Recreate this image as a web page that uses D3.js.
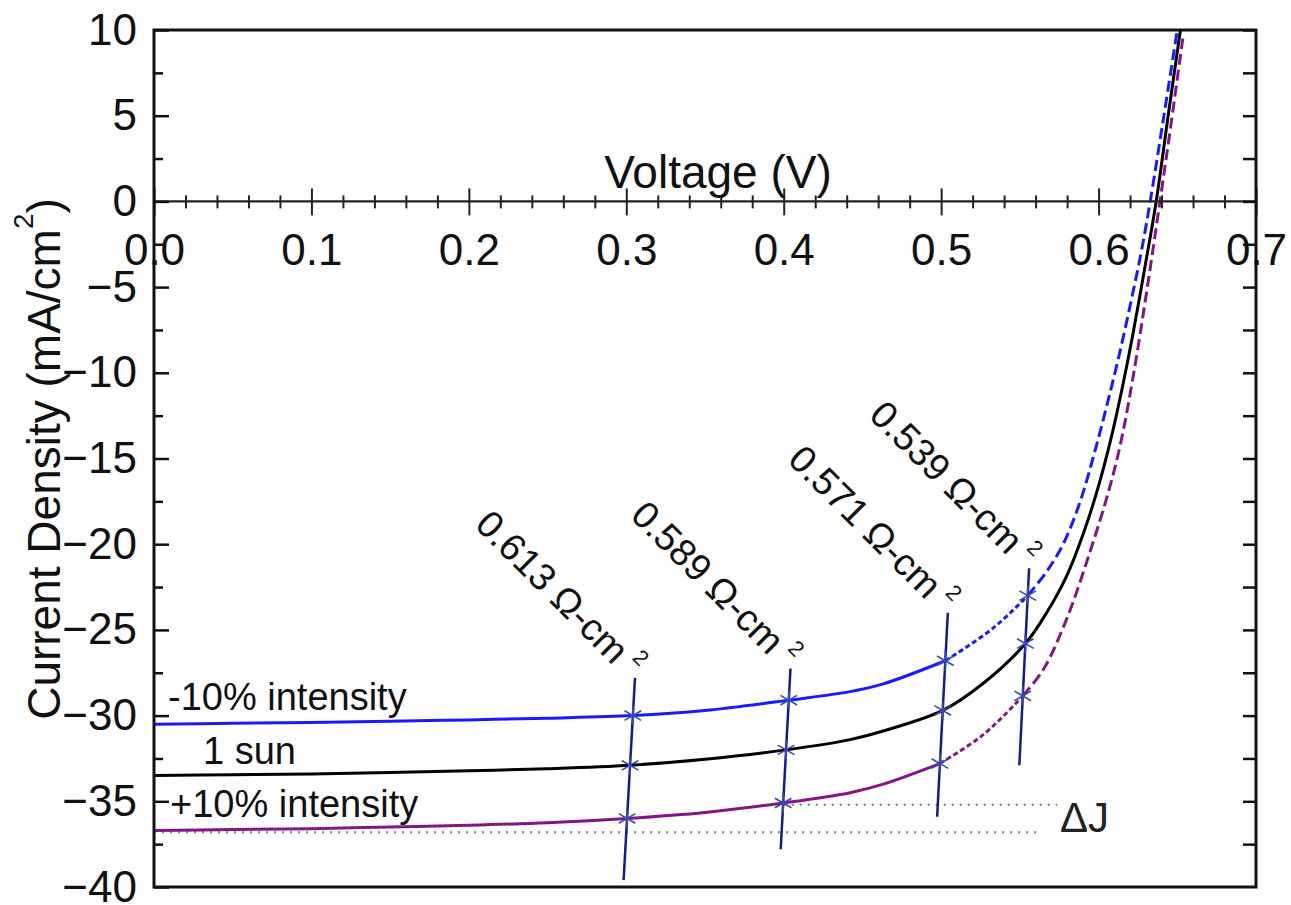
<!DOCTYPE html>
<html>
<head>
<meta charset="utf-8">
<script src="https://cdn.jsdelivr.net/npm/d3@7"></script>
<style>
  html, body { margin: 0; padding: 0; background: #fff; }
  svg { display: block; font-family: "Liberation Sans", Arial, sans-serif; }
</style>
</head>
<body>
<svg id="chart" width="1291" height="905"></svg>
<script>
// J-V curves: [voltage (V), current density (mA/cm^2)]
const curveMinus10 = [
  [0, -30.5], [0.05, -30.45], [0.1, -30.4], [0.15, -30.33], [0.2, -30.25], [0.25, -30.15],
  [0.3042, -30.0], [0.35, -29.7], [0.4032, -29.1], [0.4422, -28.6], [0.4632, -28.15],
  [0.5027, -26.8], [0.533, -24.9], [0.555, -23.0], [0.567, -21.6], [0.5775, -20.0],
  [0.588, -17.6], [0.597, -14.8], [0.605, -12.0], [0.613, -9.0], [0.6207, -5.8],
  [0.627, -3.0], [0.6328, 0], [0.6415, 5], [0.650, 10]
];
const curveOneSun = [
  [0, -33.5], [0.05, -33.45], [0.1, -33.4], [0.15, -33.32], [0.2, -33.22], [0.25, -33.1],
  [0.3024, -32.9], [0.35, -32.55], [0.4015, -32.0], [0.4422, -31.4], [0.4632, -30.9],
  [0.501, -29.7], [0.527, -28.1], [0.5535, -25.8], [0.567, -24.0], [0.58, -21.8],
  [0.591, -19.2], [0.6, -16.6], [0.608, -13.8], [0.615, -10.9], [0.6215, -7.9],
  [0.6295, -3.8], [0.6366, 0], [0.6442, 5], [0.652, 10]
];
const curvePlus10 = [
  [0, -36.7], [0.05, -36.65], [0.1, -36.6], [0.15, -36.5], [0.2, -36.4], [0.25, -36.25],
  [0.3005, -36.0], [0.35, -35.65], [0.3997, -35.1], [0.4422, -34.5], [0.4632, -34.0],
  [0.4992, -32.8], [0.527, -31.1], [0.5519, -28.85], [0.565, -27.3], [0.58, -24.3],
  [0.5947, -20.4], [0.6061, -17.0], [0.6138, -14.2], [0.622, -10.2], [0.6305, -5.3],
  [0.639, 0], [0.646, 4.5], [0.6535, 9.5]
];

// Series-resistance construction lines: R (ohm-cm^2), anchor point on 1-sun curve,
// current densities where the line meets the -10% / +10% curves, and line extent in J
const resistances = [0.613, 0.589, 0.571, 0.539];
const anchorV = [0.3024, 0.4015, 0.501, 0.5535];
const anchorJ = [-32.9, -32.0, -29.7, -25.8];
const jMinus10 = [-30.0, -29.1, -26.8, -23.0];
const jPlus10 = [-36.0, -35.1, -32.8, -28.85];
const lineTopJ = [-27.8, -27.25, -24.0, -21.4];
const lineBottomJ = [-39.6, -37.8, -35.9, -32.9];

// Delta-J reference levels
const deltaJLevels = [-35.2, -36.8];
const deltaJStart = [0.4, 0];
const deltaJEnd = [0.5737, 0.5616];

const xTicks = [0, 0.1, 0.2, 0.3, 0.4, 0.5, 0.6, 0.7];
const yTicks = [-40, -35, -30, -25, -20, -15, -10, -5, 0, 5, 10];

const svg = d3.select("#chart");
const x = d3.scaleLinear().domain([0, 0.7]).range([154, 1256]);
const y = d3.scaleLinear().domain([-40, 10]).range([887, 30]);

svg.append("defs").append("clipPath").attr("id", "plot-clip")
  .append("rect").attr("x", 154).attr("y", 30).attr("width", 1102).attr("height", 857);

const line = d3.line().x(d => x(d[0])).y(d => y(d[1])).curve(d3.curveCatmullRom.alpha(0.5));

// Each curve drawn in pieces so the dash style can change along it
function drawCurve(data, color, pieces) {
  const g = svg.append("g").attr("clip-path", "url(#plot-clip)");
  pieces.forEach(p => {
    const seg = data.filter(d => d[0] >= p.from && d[0] <= p.to);
    g.append("path").datum(seg)
      .attr("d", line)
      .attr("fill", "none")
      .attr("stroke", color)
      .attr("stroke-width", 3)
      .attr("stroke-dasharray", p.dash);
  });
}

// Delta-J dotted lines
deltaJLevels.forEach((j, i) => {
  svg.append("line")
    .attr("x1", x(deltaJStart[i])).attr("x2", x(deltaJEnd[i]))
    .attr("y1", y(j)).attr("y2", y(j))
    .attr("stroke", "#7a7a7a").attr("stroke-width", 2)
    .attr("stroke-dasharray", "2,6");
});

drawCurve(curvePlus10, "#851585", [
  { from: 0, to: 0.4992, dash: null },
  { from: 0.4992, to: 0.5519, dash: "5,3" },
  { from: 0.5519, to: 1, dash: "11,5" }
]);
drawCurve(curveMinus10, "#1a1aff", [
  { from: 0, to: 0.5027, dash: null },
  { from: 0.5027, to: 0.555, dash: "5,3" },
  { from: 0.555, to: 1, dash: "11,5" }
]);
drawCurve(curveOneSun, "#000", [{ from: 0, to: 1, dash: null }]);

// Resistance lines: V = V0 + R * (J - J0) / 1000
const vOnLine = (i, j) => anchorV[i] + resistances[i] * (j - anchorJ[i]) / 1000;
const star = d3.symbol().type(d3.symbolAsterisk).size(260);

resistances.forEach((r, i) => {
  svg.append("line")
    .attr("x1", x(vOnLine(i, lineTopJ[i]))).attr("y1", y(lineTopJ[i]))
    .attr("x2", x(vOnLine(i, lineBottomJ[i]))).attr("y2", y(lineBottomJ[i]))
    .attr("stroke", "#141c86").attr("stroke-width", 2.5);
  [jMinus10[i], anchorJ[i], jPlus10[i]].forEach(j => {
    svg.append("path")
      .attr("d", star)
      .attr("transform", `translate(${x(vOnLine(i, j))},${y(j)})`)
      .attr("fill", "none").attr("stroke", "#3a4bb0").attr("stroke-width", 1.6);
  });
  // rotated resistance label ending just above the top of the line
  const tx = x(vOnLine(i, lineTopJ[i])) - 22;
  const ty = y(lineTopJ[i]) - 12;
  svg.append("text")
    .attr("transform", `translate(${tx},${ty}) rotate(45)`)
    .attr("text-anchor", "end")
    .attr("font-size", 38)
    .attr("fill", "#111")
    .text(`${r.toFixed(3)} Ω-cm`);
  svg.append("text")
    .attr("transform", `translate(${tx},${ty}) rotate(45) translate(8,-18)`)
    .attr("font-size", 22).attr("fill", "#111")
    .text("2");
});

// Series labels
const seriesLabels = [
  { text: "-10% intensity", v: 0.0089, j: -29.65 },
  { text: "1 sun", v: 0.0311, j: -32.85 },
  { text: "+10% intensity", v: 0.0102, j: -35.9 }
];
seriesLabels.forEach(s => {
  svg.append("text").attr("x", x(s.v)).attr("y", y(s.j))
    .attr("font-size", 38).attr("fill", "#111").text(s.text);
});

svg.append("text").attr("x", 1060).attr("y", 832)
  .attr("font-size", 42).attr("fill", "#222").text("ΔJ");

// X axis through J = 0 with crossing ticks
const y0 = y(0);
const minorX = d3.range(0, 35).map(i => i * 0.02).filter(v => Math.abs(v * 10 - Math.round(v * 10)) > 1e-6);
const gxMinor = svg.append("g").attr("transform", `translate(0,${y0})`)
  .call(d3.axisBottom(x).tickValues(minorX).tickSize(7).tickFormat(""));
gxMinor.selectAll(".tick line").attr("y1", -6).attr("stroke", "#222").attr("stroke-width", 2);
gxMinor.select(".domain").remove();

const gx = svg.append("g").attr("transform", `translate(0,${y0})`)
  .call(d3.axisBottom(x).tickValues(xTicks).tickSize(14).tickPadding(18).tickFormat(d3.format(".1f")));
gx.selectAll(".tick line").attr("y1", -13).attr("stroke", "#222").attr("stroke-width", 2);
gx.selectAll(".tick text").attr("font-size", 44).attr("fill", "#111")
  .attr("font-family", "Liberation Sans, Arial, sans-serif");
gx.select(".domain").remove();
svg.append("line").attr("x1", x(0)).attr("x2", x(0.7)).attr("y1", y0).attr("y2", y0)
  .attr("stroke", "#222").attr("stroke-width", 2.2);

// Left axis: labels outside, ticks inward
const minorY = d3.range(-37.5, 10, 5);
const gyMinor = svg.append("g").attr("transform", `translate(${x(0)},0)`)
  .call(d3.axisLeft(y).tickValues(minorY).tickSize(-9).tickFormat(""));
gyMinor.select(".domain").remove();
gyMinor.selectAll(".tick line").attr("stroke", "#111").attr("stroke-width", 2.5);

const gy = svg.append("g").attr("transform", `translate(${x(0)},0)`)
  .call(d3.axisLeft(y).tickValues(yTicks).tickSize(-15).tickPadding(17).tickFormat(d3.format("d")));
gy.select(".domain").remove();
gy.selectAll(".tick line").attr("stroke", "#111").attr("stroke-width", 2.5);
gy.selectAll(".tick text").attr("font-size", 44).attr("fill", "#111")
  .attr("font-family", "Liberation Sans, Arial, sans-serif");

// Right axis: inward ticks only
const gyr = svg.append("g").attr("transform", `translate(${x(0.7)},0)`)
  .call(d3.axisRight(y).tickValues(d3.range(-37.5, 10.1, 2.5)).tickSize(-13).tickFormat(""));
gyr.select(".domain").remove();
gyr.selectAll(".tick line").attr("stroke", "#111").attr("stroke-width", 2.5);

// Frame
svg.append("rect").attr("x", x(0)).attr("y", y(10))
  .attr("width", x(0.7) - x(0)).attr("height", y(-40) - y(10))
  .attr("fill", "none").attr("stroke", "#111").attr("stroke-width", 3);

// Axis titles
svg.append("text").attr("x", 718).attr("y", 188).attr("text-anchor", "middle")
  .attr("font-size", 46).attr("fill", "#111").text("Voltage (V)");

const yt = svg.append("text")
  .attr("transform", "translate(60,459) rotate(-90)")
  .attr("text-anchor", "middle").attr("font-size", 46).attr("fill", "#111");
yt.append("tspan").text("Current Density (mA/cm");
yt.append("tspan").attr("font-size", 28).attr("dy", -27).text("2");
yt.append("tspan").attr("dy", 27).text(")");
</script>
</body>
</html>
